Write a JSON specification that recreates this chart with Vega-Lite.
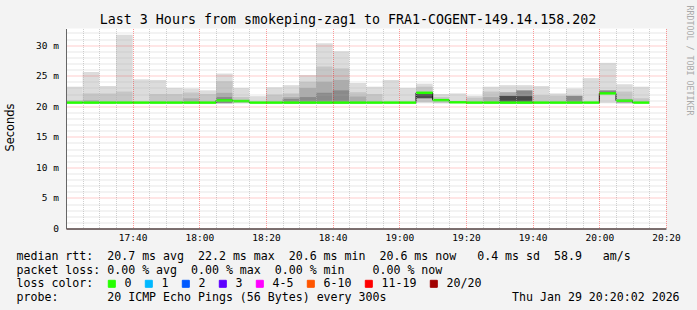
{
  "$schema": "https://vega.github.io/schema/vega-lite/v6.json",
  "width": 600,
  "height": 200,
  "autosize": {"type": "none"},
  "padding": {"left": 66, "top": 28.5, "right": 31, "bottom": 81.5},
  "background": "#f3f3f3",
  "config": {"view": {"fill": "white", "stroke": null}},
  "datasets": {
    "smoke": [
      {"t": "2026-01-29T17:20", "e": "2026-01-29T17:25", "lo": 20.5, "hi": 23.2, "l": 1},
      {"t": "2026-01-29T17:20", "e": "2026-01-29T17:25", "lo": 20.5, "hi": 21.0, "l": 2},
      {"t": "2026-01-29T17:25", "e": "2026-01-29T17:30", "lo": 20.5, "hi": 25.6, "l": 1},
      {"t": "2026-01-29T17:25", "e": "2026-01-29T17:30", "lo": 20.5, "hi": 22.1, "l": 2},
      {"t": "2026-01-29T17:25", "e": "2026-01-29T17:30", "lo": 20.5, "hi": 21.0, "l": 3},
      {"t": "2026-01-29T17:30", "e": "2026-01-29T17:35", "lo": 20.5, "hi": 23.3, "l": 1},
      {"t": "2026-01-29T17:30", "e": "2026-01-29T17:35", "lo": 20.5, "hi": 22.1, "l": 2},
      {"t": "2026-01-29T17:35", "e": "2026-01-29T17:40", "lo": 20.5, "hi": 31.7, "l": 1},
      {"t": "2026-01-29T17:35", "e": "2026-01-29T17:40", "lo": 20.5, "hi": 22.4, "l": 2},
      {"t": "2026-01-29T17:40", "e": "2026-01-29T17:45", "lo": 20.5, "hi": 24.4, "l": 1},
      {"t": "2026-01-29T17:45", "e": "2026-01-29T17:50", "lo": 20.5, "hi": 24.3, "l": 1},
      {"t": "2026-01-29T17:45", "e": "2026-01-29T17:50", "lo": 20.5, "hi": 22.0, "l": 2},
      {"t": "2026-01-29T17:50", "e": "2026-01-29T17:55", "lo": 20.5, "hi": 23.0, "l": 1},
      {"t": "2026-01-29T17:50", "e": "2026-01-29T17:55", "lo": 20.5, "hi": 22.0, "l": 2},
      {"t": "2026-01-29T17:55", "e": "2026-01-29T18:00", "lo": 20.5, "hi": 22.9, "l": 1},
      {"t": "2026-01-29T17:55", "e": "2026-01-29T18:00", "lo": 20.5, "hi": 22.25, "l": 2},
      {"t": "2026-01-29T17:55", "e": "2026-01-29T18:00", "lo": 20.5, "hi": 21.3, "l": 3},
      {"t": "2026-01-29T18:00", "e": "2026-01-29T18:05", "lo": 20.5, "hi": 22.6, "l": 1},
      {"t": "2026-01-29T18:00", "e": "2026-01-29T18:05", "lo": 20.5, "hi": 22.0, "l": 2},
      {"t": "2026-01-29T18:05", "e": "2026-01-29T18:10", "lo": 20.5, "hi": 25.35, "l": 1},
      {"t": "2026-01-29T18:05", "e": "2026-01-29T18:10", "lo": 20.5, "hi": 24.1, "l": 2},
      {"t": "2026-01-29T18:05", "e": "2026-01-29T18:10", "lo": 20.5, "hi": 22.2, "l": 3},
      {"t": "2026-01-29T18:05", "e": "2026-01-29T18:10", "lo": 20.5, "hi": 21.5, "l": 4},
      {"t": "2026-01-29T18:10", "e": "2026-01-29T18:15", "lo": 20.5, "hi": 23.0, "l": 1},
      {"t": "2026-01-29T18:10", "e": "2026-01-29T18:15", "lo": 20.5, "hi": 21.5, "l": 2},
      {"t": "2026-01-29T18:15", "e": "2026-01-29T18:20", "lo": 20.5, "hi": 21.65, "l": 1},
      {"t": "2026-01-29T18:20", "e": "2026-01-29T18:25", "lo": 20.5, "hi": 23.1, "l": 1},
      {"t": "2026-01-29T18:20", "e": "2026-01-29T18:25", "lo": 20.5, "hi": 21.9, "l": 2},
      {"t": "2026-01-29T18:25", "e": "2026-01-29T18:30", "lo": 20.5, "hi": 23.45, "l": 1},
      {"t": "2026-01-29T18:25", "e": "2026-01-29T18:30", "lo": 20.5, "hi": 22.1, "l": 2},
      {"t": "2026-01-29T18:25", "e": "2026-01-29T18:30", "lo": 20.5, "hi": 21.5, "l": 3},
      {"t": "2026-01-29T18:25", "e": "2026-01-29T18:30", "lo": 20.5, "hi": 21.2, "l": 4},
      {"t": "2026-01-29T18:30", "e": "2026-01-29T18:35", "lo": 20.5, "hi": 25.1, "l": 1},
      {"t": "2026-01-29T18:30", "e": "2026-01-29T18:35", "lo": 20.5, "hi": 24.0, "l": 2},
      {"t": "2026-01-29T18:30", "e": "2026-01-29T18:35", "lo": 20.5, "hi": 23.0, "l": 3},
      {"t": "2026-01-29T18:30", "e": "2026-01-29T18:35", "lo": 20.5, "hi": 21.5, "l": 4},
      {"t": "2026-01-29T18:35", "e": "2026-01-29T18:40", "lo": 20.5, "hi": 30.3, "l": 1},
      {"t": "2026-01-29T18:35", "e": "2026-01-29T18:40", "lo": 20.5, "hi": 26.5, "l": 2},
      {"t": "2026-01-29T18:35", "e": "2026-01-29T18:40", "lo": 20.5, "hi": 24.0, "l": 3},
      {"t": "2026-01-29T18:35", "e": "2026-01-29T18:40", "lo": 20.5, "hi": 22.2, "l": 4},
      {"t": "2026-01-29T18:40", "e": "2026-01-29T18:45", "lo": 20.5, "hi": 29.0, "l": 1},
      {"t": "2026-01-29T18:40", "e": "2026-01-29T18:45", "lo": 20.5, "hi": 26.2, "l": 2},
      {"t": "2026-01-29T18:40", "e": "2026-01-29T18:45", "lo": 20.5, "hi": 24.3, "l": 3},
      {"t": "2026-01-29T18:40", "e": "2026-01-29T18:45", "lo": 20.5, "hi": 22.6, "l": 4},
      {"t": "2026-01-29T18:45", "e": "2026-01-29T18:50", "lo": 20.5, "hi": 23.8, "l": 1},
      {"t": "2026-01-29T18:45", "e": "2026-01-29T18:50", "lo": 20.5, "hi": 22.3, "l": 2},
      {"t": "2026-01-29T18:45", "e": "2026-01-29T18:50", "lo": 20.5, "hi": 21.6, "l": 3},
      {"t": "2026-01-29T18:50", "e": "2026-01-29T18:55", "lo": 20.5, "hi": 23.2, "l": 1},
      {"t": "2026-01-29T18:50", "e": "2026-01-29T18:55", "lo": 20.5, "hi": 22.0, "l": 2},
      {"t": "2026-01-29T18:55", "e": "2026-01-29T19:00", "lo": 20.5, "hi": 24.3, "l": 1},
      {"t": "2026-01-29T19:00", "e": "2026-01-29T19:05", "lo": 20.5, "hi": 23.0, "l": 1},
      {"t": "2026-01-29T19:05", "e": "2026-01-29T19:10", "lo": 20.5, "hi": 23.7, "l": 1},
      {"t": "2026-01-29T19:05", "e": "2026-01-29T19:10", "lo": 20.7, "hi": 23.2, "l": 2},
      {"t": "2026-01-29T19:05", "e": "2026-01-29T19:10", "lo": 21.3, "hi": 22.2, "l": 5},
      {"t": "2026-01-29T19:10", "e": "2026-01-29T19:15", "lo": 20.5, "hi": 22.0, "l": 1},
      {"t": "2026-01-29T19:10", "e": "2026-01-29T19:15", "lo": 20.5, "hi": 21.5, "l": 2},
      {"t": "2026-01-29T19:15", "e": "2026-01-29T19:20", "lo": 20.5, "hi": 22.1, "l": 1},
      {"t": "2026-01-29T19:20", "e": "2026-01-29T19:25", "lo": 20.5, "hi": 21.7, "l": 1},
      {"t": "2026-01-29T19:20", "e": "2026-01-29T19:25", "lo": 20.5, "hi": 21.4, "l": 2},
      {"t": "2026-01-29T19:25", "e": "2026-01-29T19:30", "lo": 20.5, "hi": 23.2, "l": 1},
      {"t": "2026-01-29T19:25", "e": "2026-01-29T19:30", "lo": 20.5, "hi": 22.4, "l": 2},
      {"t": "2026-01-29T19:25", "e": "2026-01-29T19:30", "lo": 20.5, "hi": 21.5, "l": 3},
      {"t": "2026-01-29T19:30", "e": "2026-01-29T19:35", "lo": 20.5, "hi": 23.45, "l": 1},
      {"t": "2026-01-29T19:30", "e": "2026-01-29T19:35", "lo": 20.5, "hi": 22.3, "l": 3},
      {"t": "2026-01-29T19:30", "e": "2026-01-29T19:35", "lo": 20.5, "hi": 21.7, "l": 5},
      {"t": "2026-01-29T19:35", "e": "2026-01-29T19:40", "lo": 20.5, "hi": 23.45, "l": 1},
      {"t": "2026-01-29T19:35", "e": "2026-01-29T19:40", "lo": 20.5, "hi": 22.6, "l": 4},
      {"t": "2026-01-29T19:35", "e": "2026-01-29T19:40", "lo": 20.5, "hi": 21.65, "l": 5},
      {"t": "2026-01-29T19:40", "e": "2026-01-29T19:45", "lo": 20.5, "hi": 23.3, "l": 1},
      {"t": "2026-01-29T19:40", "e": "2026-01-29T19:45", "lo": 20.5, "hi": 21.8, "l": 2},
      {"t": "2026-01-29T19:45", "e": "2026-01-29T19:50", "lo": 20.5, "hi": 22.1, "l": 1},
      {"t": "2026-01-29T19:45", "e": "2026-01-29T19:50", "lo": 20.5, "hi": 21.7, "l": 2},
      {"t": "2026-01-29T19:50", "e": "2026-01-29T19:55", "lo": 20.5, "hi": 22.9, "l": 1},
      {"t": "2026-01-29T19:50", "e": "2026-01-29T19:55", "lo": 20.5, "hi": 21.7, "l": 4},
      {"t": "2026-01-29T19:55", "e": "2026-01-29T20:00", "lo": 20.5, "hi": 24.6, "l": 1},
      {"t": "2026-01-29T20:00", "e": "2026-01-29T20:05", "lo": 20.5, "hi": 27.1, "l": 1},
      {"t": "2026-01-29T20:00", "e": "2026-01-29T20:05", "lo": 22.1, "hi": 22.6, "l": 4},
      {"t": "2026-01-29T20:05", "e": "2026-01-29T20:10", "lo": 20.5, "hi": 23.6, "l": 1},
      {"t": "2026-01-29T20:05", "e": "2026-01-29T20:10", "lo": 20.5, "hi": 22.4, "l": 2},
      {"t": "2026-01-29T20:05", "e": "2026-01-29T20:10", "lo": 20.5, "hi": 21.2, "l": 3},
      {"t": "2026-01-29T20:10", "e": "2026-01-29T20:15", "lo": 20.5, "hi": 23.2, "l": 1},
      {"t": "2026-01-29T20:10", "e": "2026-01-29T20:15", "lo": 20.5, "hi": 21.3, "l": 2}
    ],
    "med": [
      {"t": "2026-01-29T17:20", "e": "2026-01-29T17:25", "m": 20.6, "loss": "0"},
      {"t": "2026-01-29T17:25", "e": "2026-01-29T17:30", "m": 20.6, "loss": "0"},
      {"t": "2026-01-29T17:30", "e": "2026-01-29T17:35", "m": 20.6, "loss": "0"},
      {"t": "2026-01-29T17:35", "e": "2026-01-29T17:40", "m": 20.6, "loss": "0"},
      {"t": "2026-01-29T17:40", "e": "2026-01-29T17:45", "m": 20.6, "loss": "0"},
      {"t": "2026-01-29T17:45", "e": "2026-01-29T17:50", "m": 20.6, "loss": "0"},
      {"t": "2026-01-29T17:50", "e": "2026-01-29T17:55", "m": 20.6, "loss": "0"},
      {"t": "2026-01-29T17:55", "e": "2026-01-29T18:00", "m": 20.6, "loss": "0"},
      {"t": "2026-01-29T18:00", "e": "2026-01-29T18:05", "m": 20.6, "loss": "0"},
      {"t": "2026-01-29T18:05", "e": "2026-01-29T18:10", "m": 20.95, "loss": "0"},
      {"t": "2026-01-29T18:10", "e": "2026-01-29T18:15", "m": 20.85, "loss": "0"},
      {"t": "2026-01-29T18:15", "e": "2026-01-29T18:20", "m": 20.6, "loss": "0"},
      {"t": "2026-01-29T18:20", "e": "2026-01-29T18:25", "m": 20.6, "loss": "0"},
      {"t": "2026-01-29T18:25", "e": "2026-01-29T18:30", "m": 20.6, "loss": "0"},
      {"t": "2026-01-29T18:30", "e": "2026-01-29T18:35", "m": 20.6, "loss": "0"},
      {"t": "2026-01-29T18:35", "e": "2026-01-29T18:40", "m": 20.6, "loss": "0"},
      {"t": "2026-01-29T18:40", "e": "2026-01-29T18:45", "m": 20.6, "loss": "0"},
      {"t": "2026-01-29T18:45", "e": "2026-01-29T18:50", "m": 20.6, "loss": "0"},
      {"t": "2026-01-29T18:50", "e": "2026-01-29T18:55", "m": 20.6, "loss": "0"},
      {"t": "2026-01-29T18:55", "e": "2026-01-29T19:00", "m": 20.6, "loss": "0"},
      {"t": "2026-01-29T19:00", "e": "2026-01-29T19:05", "m": 20.6, "loss": "0"},
      {"t": "2026-01-29T19:05", "e": "2026-01-29T19:10", "m": 22.2, "loss": "0"},
      {"t": "2026-01-29T19:10", "e": "2026-01-29T19:15", "m": 21.0, "loss": "0"},
      {"t": "2026-01-29T19:15", "e": "2026-01-29T19:20", "m": 20.65, "loss": "0"},
      {"t": "2026-01-29T19:20", "e": "2026-01-29T19:25", "m": 20.6, "loss": "0"},
      {"t": "2026-01-29T19:25", "e": "2026-01-29T19:30", "m": 20.6, "loss": "0"},
      {"t": "2026-01-29T19:30", "e": "2026-01-29T19:35", "m": 20.6, "loss": "0"},
      {"t": "2026-01-29T19:35", "e": "2026-01-29T19:40", "m": 20.6, "loss": "0"},
      {"t": "2026-01-29T19:40", "e": "2026-01-29T19:45", "m": 20.6, "loss": "0"},
      {"t": "2026-01-29T19:45", "e": "2026-01-29T19:50", "m": 20.6, "loss": "0"},
      {"t": "2026-01-29T19:50", "e": "2026-01-29T19:55", "m": 20.6, "loss": "0"},
      {"t": "2026-01-29T19:55", "e": "2026-01-29T20:00", "m": 20.6, "loss": "0"},
      {"t": "2026-01-29T20:00", "e": "2026-01-29T20:05", "m": 22.1, "loss": "0"},
      {"t": "2026-01-29T20:05", "e": "2026-01-29T20:10", "m": 20.9, "loss": "0"},
      {"t": "2026-01-29T20:10", "e": "2026-01-29T20:15", "m": 20.6, "loss": "0"}
    ]
  },
  "layer": [
    {
      "data": {"name": "smoke"},
      "mark": {"type": "rect"},
      "encoding": {
        "x": {
          "field": "t", "type": "temporal",
          "scale": {"domain": [{"year": 2026, "month": 1, "date": 29, "hours": 17, "minutes": 20}, {"year": 2026, "month": 1, "date": 29, "hours": 20, "minutes": 20}]},
          "axis": {
            "orient": "bottom",
            "values": [
              {"year": 2026, "month": 1, "date": 29, "hours": 17, "minutes": 40},
              {"year": 2026, "month": 1, "date": 29, "hours": 18, "minutes": 0},
              {"year": 2026, "month": 1, "date": 29, "hours": 18, "minutes": 20},
              {"year": 2026, "month": 1, "date": 29, "hours": 18, "minutes": 40},
              {"year": 2026, "month": 1, "date": 29, "hours": 19, "minutes": 0},
              {"year": 2026, "month": 1, "date": 29, "hours": 19, "minutes": 20},
              {"year": 2026, "month": 1, "date": 29, "hours": 19, "minutes": 40},
              {"year": 2026, "month": 1, "date": 29, "hours": 20, "minutes": 0},
              {"year": 2026, "month": 1, "date": 29, "hours": 20, "minutes": 20}
            ],
            "format": "%H:%M",
            "grid": true, "gridColor": "#ff0000", "gridOpacity": 0.4, "gridDash": [1, 1], "gridWidth": 1,
            "ticks": false, "tickSize": 0,
            "domain": true, "domainColor": "#000000", "domainWidth": 1,
            "labelFont": "DejaVu Sans Mono", "labelFontSize": 9.5, "labelColor": "#000000", "labelPadding": 4, "labelFlush": false, "labelOverlap": false,
            "zindex": 1,
            "title": [
              "median\u00a0rtt:\u00a0\u00a020.7\u00a0ms\u00a0avg\u00a0\u00a022.2\u00a0ms\u00a0max\u00a0\u00a020.6\u00a0ms\u00a0min\u00a0\u00a020.6\u00a0ms\u00a0now\u00a0\u00a0\u00a00.4\u00a0ms\u00a0sd\u00a0\u00a058.9\u00a0\u00a0\u00a0am/s",
              "packet\u00a0loss:\u00a00.00\u00a0%\u00a0avg\u00a0\u00a00.00\u00a0%\u00a0max\u00a0\u00a00.00\u00a0%\u00a0min\u00a0\u00a0\u00a0\u00a00.00\u00a0%\u00a0now"
            ],
            "titleFont": "DejaVu Sans Mono", "titleFontSize": 11.6, "titleFontWeight": "normal", "titleColor": "#000000",
            "titleX": -50, "titleY": 30.8, "titleAlign": "left", "titleAnchor": "start", "titleBaseline": "alphabetic", "titleLineHeight": 13.8
          }
        },
        "x2": {"field": "e"},
        "y": {
          "field": "lo", "type": "quantitative",
          "scale": {"domain": [0, 32.72], "nice": false, "zero": false},
          "axis": {
            "orient": "left",
            "values": [0, 5, 10, 15, 20, 25, 30],
            "labelExpr": "datum.value == 0 ? '0\u00a0\u00a0' : datum.value + '\u00a0m'",
            "grid": true, "gridColor": "#ff0000", "gridOpacity": 0.4, "gridDash": [1, 1], "gridWidth": 1,
            "ticks": false, "tickSize": 0,
            "domain": true, "domainColor": "#666666", "domainWidth": 1,
            "labelFont": "DejaVu Sans Mono", "labelFontSize": 9.5, "labelColor": "#000000", "labelPadding": 7.5,
            "zindex": 1,
            "title": "Seconds", "titleFont": "DejaVu Sans", "titleFontSize": 11.4, "titleFontWeight": "normal", "titleColor": "#000000",
            "titleX": -56, "titleY": 98.5, "titleAngle": -90, "titleAlign": "center", "titleBaseline": "middle"
          }
        },
        "y2": {"field": "hi"},
        "fill": {
          "field": "l", "type": "ordinal",
          "scale": {"domain": [1, 2, 3, 4, 5], "range": ["#dcdcdc", "#c6c6c6", "#acacac", "#8a8a8a", "#4a4a4a"]},
          "legend": null
        }
      }
    },
    {
      "data": {"name": "med"},
      "mark": {"type": "line", "interpolate": "step-after", "color": "#000000", "strokeWidth": 1},
      "encoding": {
        "x": {
          "field": "t", "type": "temporal",
          "scale": {"domain": [{"year": 2026, "month": 1, "date": 29, "hours": 17, "minutes": 20}, {"year": 2026, "month": 1, "date": 29, "hours": 20, "minutes": 20}]},
          "axis": {
            "orient": "bottom",
            "values": [
              {"year": 2026, "month": 1, "date": 29, "hours": 17, "minutes": 25},
              {"year": 2026, "month": 1, "date": 29, "hours": 17, "minutes": 30},
              {"year": 2026, "month": 1, "date": 29, "hours": 17, "minutes": 35},
              {"year": 2026, "month": 1, "date": 29, "hours": 17, "minutes": 45},
              {"year": 2026, "month": 1, "date": 29, "hours": 17, "minutes": 50},
              {"year": 2026, "month": 1, "date": 29, "hours": 17, "minutes": 55},
              {"year": 2026, "month": 1, "date": 29, "hours": 18, "minutes": 5},
              {"year": 2026, "month": 1, "date": 29, "hours": 18, "minutes": 10},
              {"year": 2026, "month": 1, "date": 29, "hours": 18, "minutes": 15},
              {"year": 2026, "month": 1, "date": 29, "hours": 18, "minutes": 25},
              {"year": 2026, "month": 1, "date": 29, "hours": 18, "minutes": 30},
              {"year": 2026, "month": 1, "date": 29, "hours": 18, "minutes": 35},
              {"year": 2026, "month": 1, "date": 29, "hours": 18, "minutes": 45},
              {"year": 2026, "month": 1, "date": 29, "hours": 18, "minutes": 50},
              {"year": 2026, "month": 1, "date": 29, "hours": 18, "minutes": 55},
              {"year": 2026, "month": 1, "date": 29, "hours": 19, "minutes": 5},
              {"year": 2026, "month": 1, "date": 29, "hours": 19, "minutes": 10},
              {"year": 2026, "month": 1, "date": 29, "hours": 19, "minutes": 15},
              {"year": 2026, "month": 1, "date": 29, "hours": 19, "minutes": 25},
              {"year": 2026, "month": 1, "date": 29, "hours": 19, "minutes": 30},
              {"year": 2026, "month": 1, "date": 29, "hours": 19, "minutes": 35},
              {"year": 2026, "month": 1, "date": 29, "hours": 19, "minutes": 45},
              {"year": 2026, "month": 1, "date": 29, "hours": 19, "minutes": 50},
              {"year": 2026, "month": 1, "date": 29, "hours": 19, "minutes": 55},
              {"year": 2026, "month": 1, "date": 29, "hours": 20, "minutes": 5},
              {"year": 2026, "month": 1, "date": 29, "hours": 20, "minutes": 10},
              {"year": 2026, "month": 1, "date": 29, "hours": 20, "minutes": 15}
            ],
            "grid": true, "gridColor": "#b0b0b0", "gridOpacity": 0.6, "gridDash": [1, 1], "gridWidth": 1,
            "labels": false, "ticks": false, "tickSize": 0, "domain": false, "zindex": 1,
            "title": "loss\u00a0color:", "titleFont": "DejaVu Sans Mono", "titleFontSize": 11.6, "titleFontWeight": "normal", "titleColor": "#000000",
            "titleX": -50, "titleY": 58.4, "titleAlign": "left", "titleAnchor": "start", "titleBaseline": "alphabetic"
          }
        },
        "y": {
          "field": "m", "type": "quantitative",
          "scale": {"domain": [0, 32.72], "nice": false, "zero": false},
          "axis": {
            "orient": "left",
            "values": [1, 2, 3, 4, 6, 7, 8, 9, 11, 12, 13, 14, 16, 17, 18, 19, 21, 22, 23, 24, 26, 27, 28, 29, 31, 32],
            "grid": true, "gridColor": "#b0b0b0", "gridOpacity": 0.6, "gridDash": [1, 1], "gridWidth": 1,
            "labels": false, "ticks": false, "tickSize": 0, "domain": false, "zindex": 1,
            "title": "probe:\u00a0\u00a0\u00a0\u00a0\u00a0\u00a0\u00a020\u00a0ICMP\u00a0Echo\u00a0Pings\u00a0(56\u00a0Bytes)\u00a0every\u00a0300s\u00a0\u00a0\u00a0\u00a0\u00a0\u00a0\u00a0\u00a0\u00a0\u00a0\u00a0\u00a0\u00a0\u00a0\u00a0\u00a0\u00a0\u00a0Thu\u00a0Jan\u00a029\u00a020:20:02\u00a02026",
            "titleFont": "DejaVu Sans Mono", "titleFontSize": 11.6, "titleFontWeight": "normal", "titleColor": "#000000",
            "titleAngle": 0, "titleX": -50, "titleY": 272.2, "titleAlign": "left", "titleBaseline": "alphabetic"
          }
        }
      }
    },
    {
      "data": {"name": "med"},
      "mark": {"type": "rule", "strokeWidth": 2.5},
      "encoding": {
        "x": {
          "field": "t", "type": "temporal",
          "axis": {
            "orient": "top", "labels": false, "ticks": false, "tickSize": 0, "domain": false, "grid": false,
            "title": "Last 3 Hours from smokeping-zag1 to FRA1-COGENT-149.14.158.202",
            "titleFont": "DejaVu Sans Mono", "titleFontSize": 13.3, "titleFontWeight": "normal", "titleColor": "#000000",
            "titleX": 281.5, "titleY": -5, "titleAlign": "center", "titleBaseline": "alphabetic"
          }
        },
        "x2": {"field": "e"},
        "y": {
          "field": "m", "type": "quantitative",
          "axis": {
            "orient": "right", "labels": false, "ticks": false, "tickSize": 0, "domain": false, "grid": false,
            "title": "RRDTOOL / TOBI OETIKER", "titleFont": "DejaVu Sans Mono", "titleFontSize": 8.3, "titleFontWeight": "normal", "titleColor": "#aaaaaa",
            "titleAngle": 90, "titleX": 22, "titleY": 31.5, "titleAlign": "center", "titleBaseline": "middle"
          }
        },
        "color": {
          "field": "loss", "type": "nominal",
          "scale": {"domain": ["0", "1", "2", "3", "4-5", "6-10", "11-19", "20/20"], "range": ["#26ff00", "#00b8ff", "#0059ff", "#5e00ff", "#ff00ff", "#ff5500", "#ff0000", "#a10000"]},
          "legend": {
            "orient": "none", "legendX": 40, "legendY": 249.5, "direction": "horizontal", "columns": 8, "gridAlign": "none", "title": null, "padding": 0,
            "symbolType": "square", "symbolSize": 49, "symbolStrokeWidth": 1,
            "labelFont": "DejaVu Sans Mono", "labelFontSize": 11.6, "labelColor": "#000000", "labelOffset": 7, "columnPadding": 11,
            "encode": {"symbols": {"update": {"fill": {"scale": "color", "field": "value"}, "stroke": {"value": "#000000"}, "strokeWidth": {"value": 1}, "opacity": {"value": 1}}}}
          }
        }
      }
    }
  ],
  "resolve": {"axis": {"x": "independent", "y": "independent"}}
}
